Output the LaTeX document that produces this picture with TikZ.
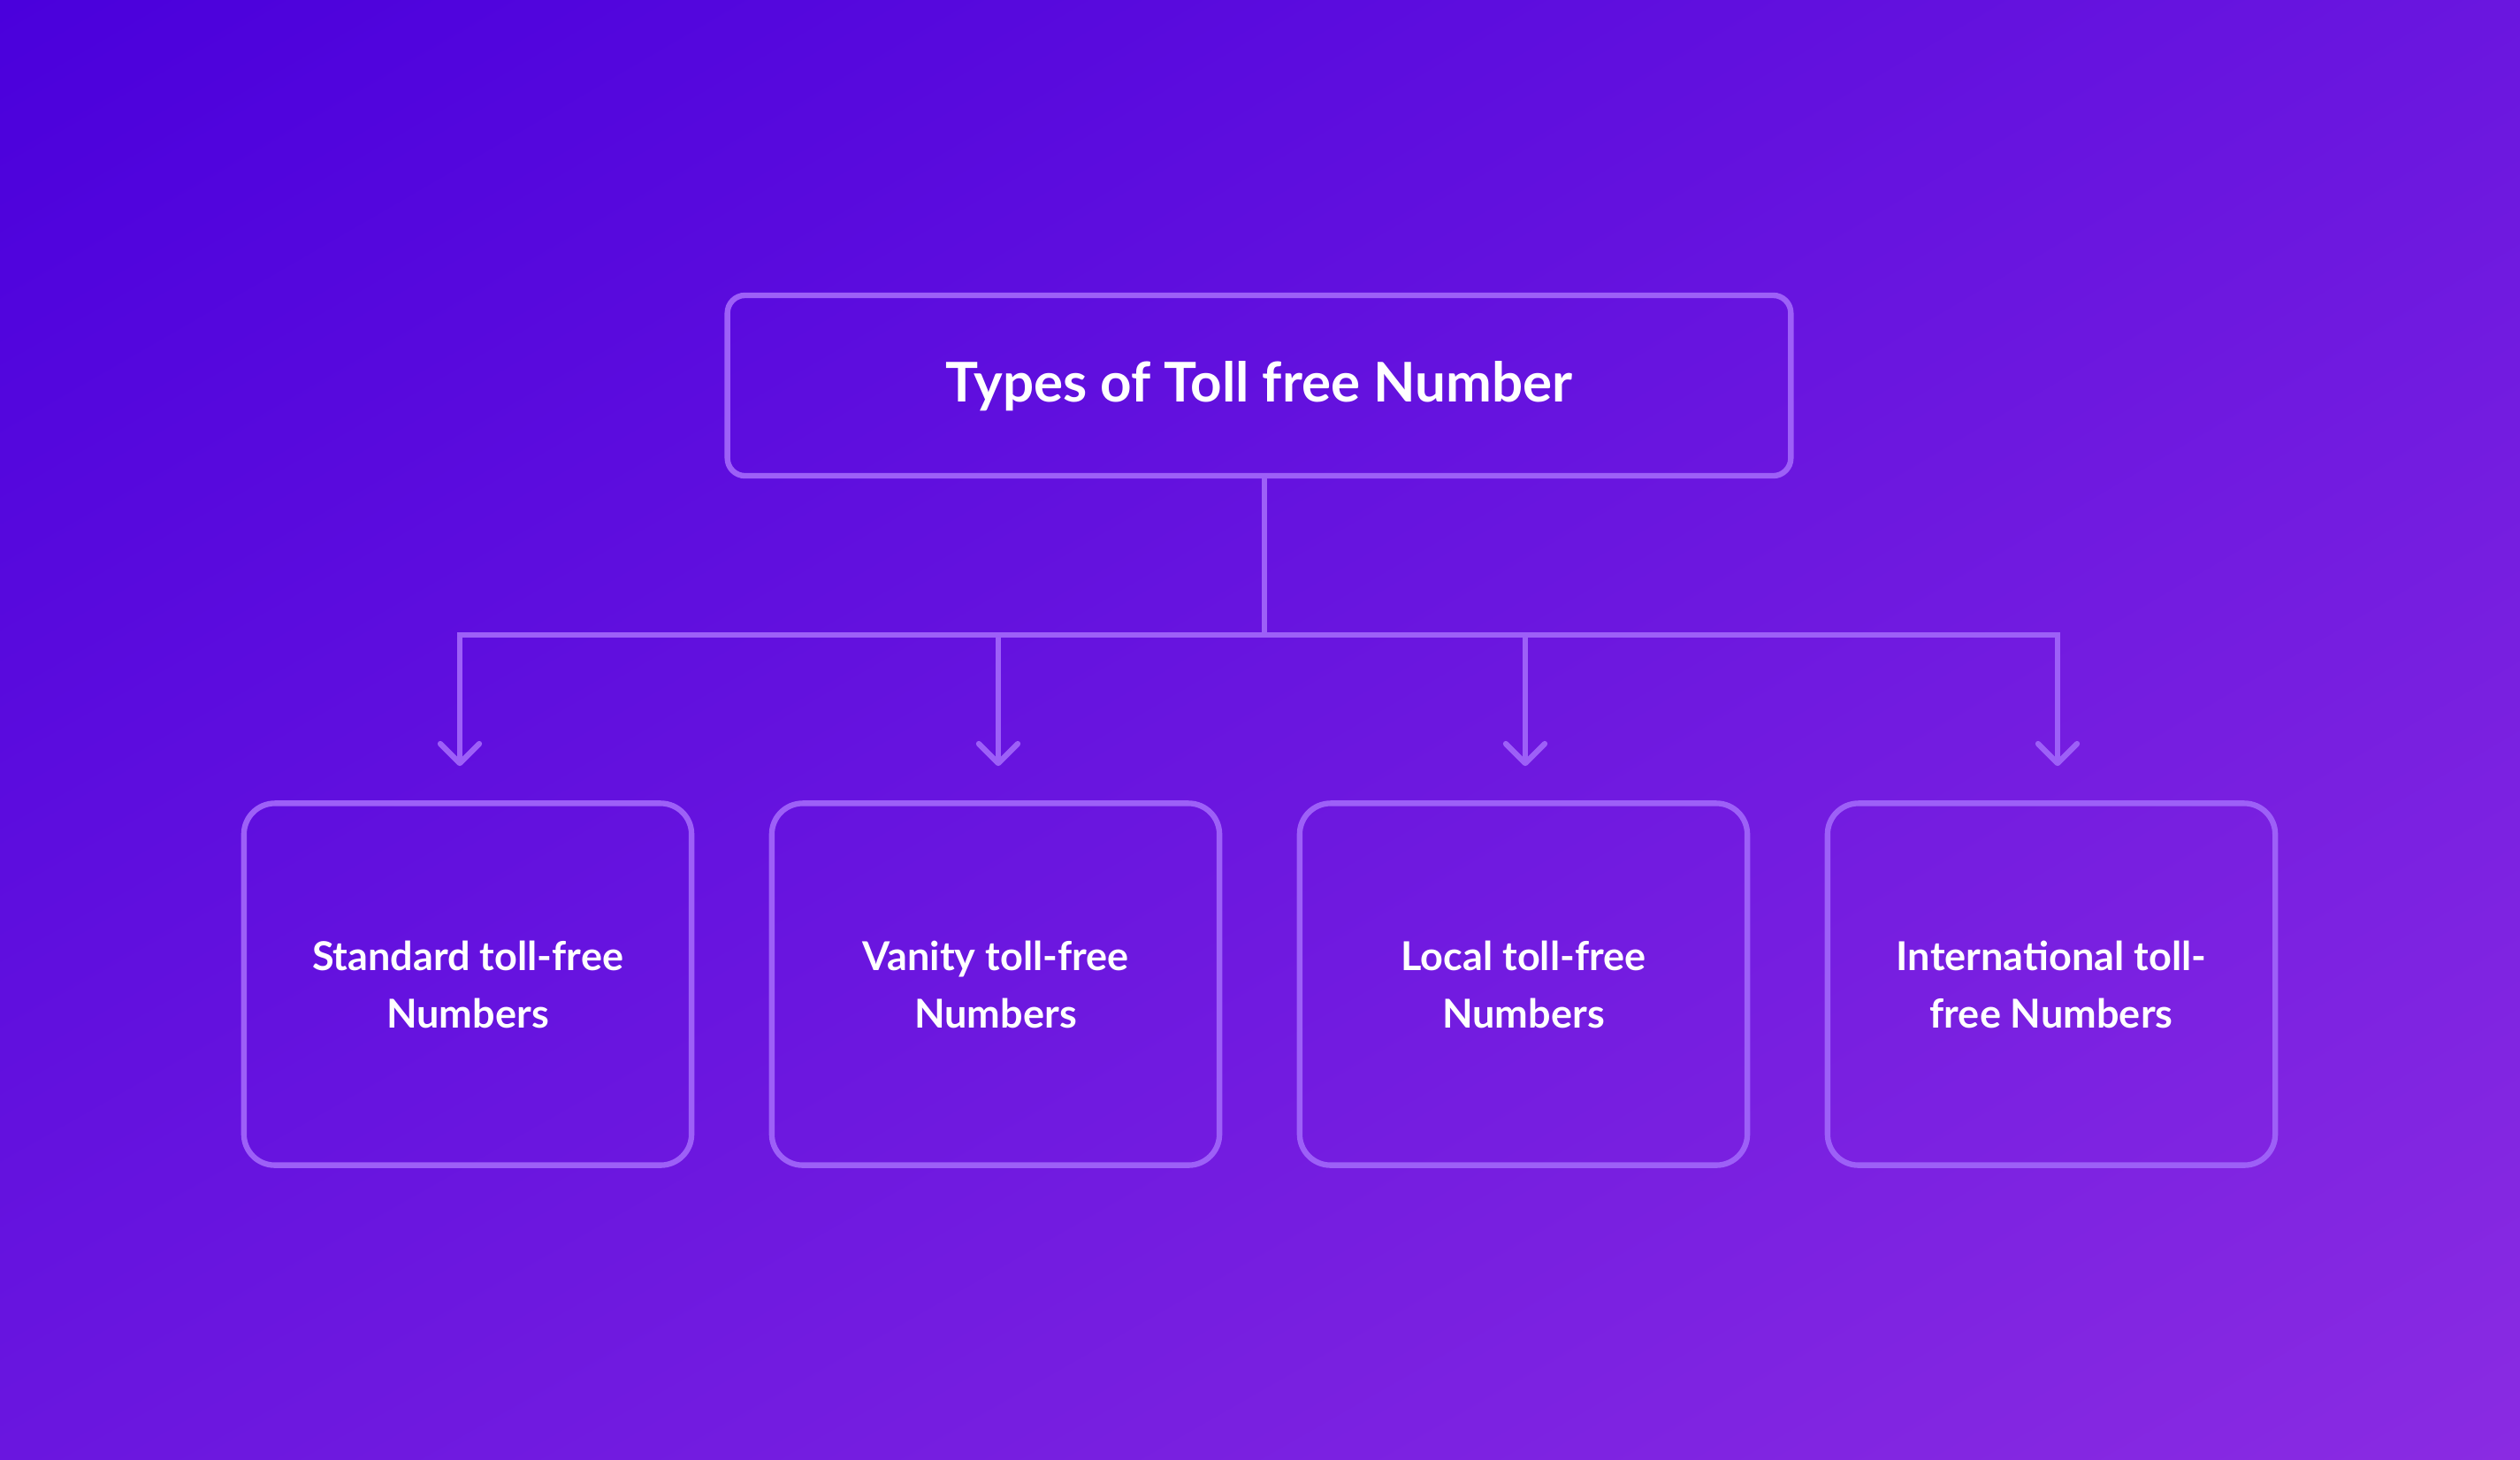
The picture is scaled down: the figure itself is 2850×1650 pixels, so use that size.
\documentclass[tikz,border=0pt]{standalone}
\usepackage{fontspec}
\setmainfont{Lato}
\usetikzlibrary{arrows.meta,positioning,calc,shadings}
\definecolor{bgtl}{HTML}{4A00DC}
\definecolor{bgbr}{HTML}{8A2BE2}
\definecolor{bgmid}{HTML}{6A16DF}
\definecolor{edge}{HTML}{9D60F7}

\begin{document}
\begin{tikzpicture}[
  x=0.01cm, y=-0.01cm,
  headbox/.style={draw=edge, line width=1.8pt, rounded corners=0.2cm, minimum width=12.02cm, minimum height=2.04cm, align=center, text=white, text depth=0.1cm, font=\bfseries\fontsize{17.6}{21}\selectfont},
  typebox/.style={draw=edge, line width=1.8pt, rounded corners=0.35cm, minimum width=5.06cm, minimum height=4.09cm, align=center, text=white, font=\bfseries\fontsize{12.8}{18.5}\selectfont},
  arr/.style={draw=edge, line width=1.8pt, line cap=round, -{Straight Barb[length=0.22cm, width=0.44cm, round]}, shorten >=0.39cm}
]
\shade[upper left=bgtl, upper right=bgmid, lower left=bgmid, lower right=bgbr] (0,0) rectangle (2850,1650);
\useasboundingbox (0,0) rectangle (2850,1650);
\node[headbox] (head) at (1424,436) {Types of Toll free Number};
\node[typebox] (std) at (529,1113) {Standard toll-free\\ Numbers};
\node[typebox] (van) at (1126,1113) {Vanity toll-free\\ Numbers};
\node[typebox] (loc) at (1723,1113) {Local toll-free\\ Numbers};
\node[typebox] (intl) at (2320,1113) {International toll-\\ free Numbers};
\coordinate (hub) at (1430,718);
\draw[draw=edge, line width=1.8pt] (head.south -| hub) -- (hub);
\draw[arr] (hub) -| ([xshift=-0.09cm]std.north);
\draw[arr] (hub) -| ([xshift=0.03cm]van.north);
\draw[arr] (hub) -| ([xshift=0.02cm]loc.north);
\draw[arr] (hub) -| ([xshift=0.07cm]intl.north);
\end{tikzpicture}
\end{document}
